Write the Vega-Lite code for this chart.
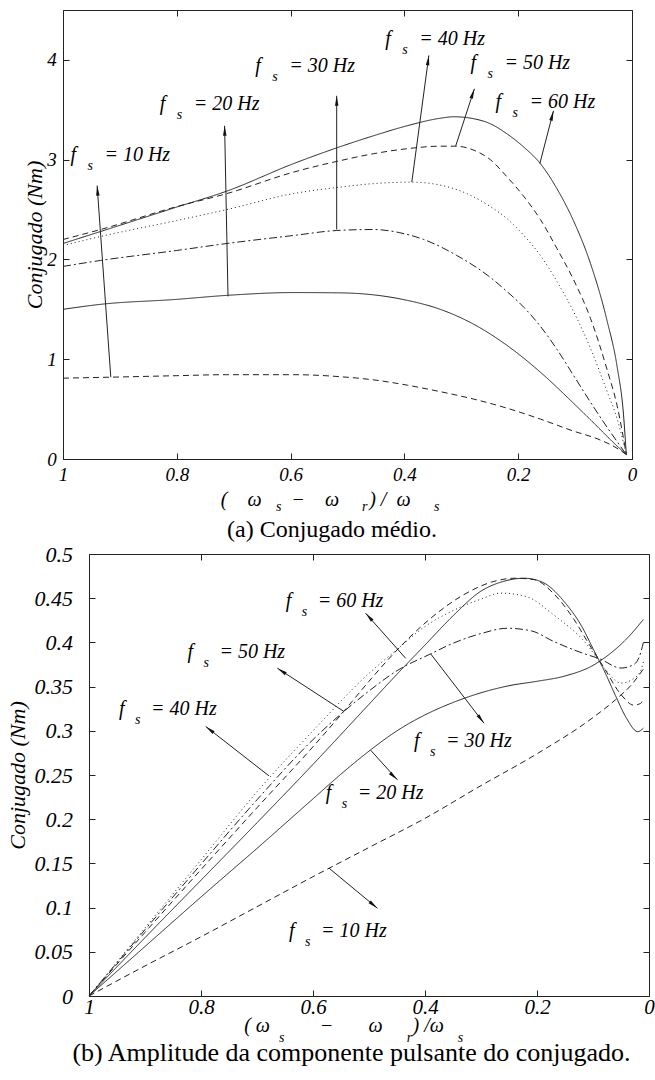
{
  "$schema": "https://vega.github.io/schema/vega-lite/v6.json",
  "background": "white",
  "padding": {"left": 6, "top": 9, "right": 0, "bottom": 0},
  "config": {
    "view": {"stroke": null},
    "font": "Liberation Serif",
    "axis": {
      "grid": false,
      "domainColor": "#222",
      "domainWidth": 1,
      "tickColor": "#222",
      "tickWidth": 1,
      "tickSize": -6,
      "labelColor": "#000",
      "labelFont": "Liberation Serif",
      "labelFontStyle": "italic",
      "labelFlush": false,
      "labelOverlap": false,
      "titleColor": "#000",
      "titleFont": "Liberation Serif",
      "titleFontStyle": "italic",
      "titleFontWeight": "normal"
    },
    "title": {"color": "#000", "subtitleColor": "#000"}
  },
  "datasets": {
    "topCurves": [
      {"f":"10 Hz","s":1,"T":0.81},{"f":"10 Hz","s":0.916,"T":0.82},{"f":"10 Hz","s":0.8,"T":0.835},{"f":"10 Hz","s":0.712,"T":0.845},{"f":"10 Hz","s":0.595,"T":0.845},{"f":"10 Hz","s":0.513,"T":0.825},{"f":"10 Hz","s":0.45,"T":0.79},{"f":"10 Hz","s":0.395,"T":0.74},{"f":"10 Hz","s":0.337,"T":0.675},{"f":"10 Hz","s":0.278,"T":0.6},{"f":"10 Hz","s":0.22,"T":0.51},{"f":"10 Hz","s":0.161,"T":0.4},{"f":"10 Hz","s":0.103,"T":0.28},{"f":"10 Hz","s":0.06,"T":0.2},{"f":"10 Hz","s":0.03,"T":0.12},{"f":"10 Hz","s":0.01,"T":0.045},
      {"f":"20 Hz","s":1,"T":1.5},{"f":"20 Hz","s":0.934,"T":1.55},{"f":"20 Hz","s":0.8,"T":1.6},{"f":"20 Hz","s":0.712,"T":1.64},{"f":"20 Hz","s":0.595,"T":1.668},{"f":"20 Hz","s":0.513,"T":1.665},{"f":"20 Hz","s":0.454,"T":1.645},{"f":"20 Hz","s":0.395,"T":1.59},{"f":"20 Hz","s":0.337,"T":1.5},{"f":"20 Hz","s":0.278,"T":1.35},{"f":"20 Hz","s":0.22,"T":1.14},{"f":"20 Hz","s":0.161,"T":0.87},{"f":"20 Hz","s":0.103,"T":0.56},{"f":"20 Hz","s":0.06,"T":0.32},{"f":"20 Hz","s":0.03,"T":0.15},{"f":"20 Hz","s":0.01,"T":0.045},
      {"f":"30 Hz","s":1,"T":1.93},{"f":"30 Hz","s":0.934,"T":1.99},{"f":"30 Hz","s":0.8,"T":2.09},{"f":"30 Hz","s":0.712,"T":2.16},{"f":"30 Hz","s":0.595,"T":2.24},{"f":"30 Hz","s":0.519,"T":2.29},{"f":"30 Hz","s":0.454,"T":2.3},{"f":"30 Hz","s":0.41,"T":2.27},{"f":"30 Hz","s":0.366,"T":2.2},{"f":"30 Hz","s":0.308,"T":2.04},{"f":"30 Hz","s":0.249,"T":1.82},{"f":"30 Hz","s":0.22,"T":1.68},{"f":"30 Hz","s":0.19,"T":1.52},{"f":"30 Hz","s":0.161,"T":1.33},{"f":"30 Hz","s":0.132,"T":1.1},{"f":"30 Hz","s":0.103,"T":0.84},{"f":"30 Hz","s":0.073,"T":0.57},{"f":"30 Hz","s":0.044,"T":0.32},{"f":"30 Hz","s":0.01,"T":0.045},
      {"f":"40 Hz","s":1,"T":2.14},{"f":"40 Hz","s":0.934,"T":2.23},{"f":"40 Hz","s":0.8,"T":2.39},{"f":"40 Hz","s":0.712,"T":2.5},{"f":"40 Hz","s":0.595,"T":2.66},{"f":"40 Hz","s":0.513,"T":2.725},{"f":"40 Hz","s":0.454,"T":2.76},{"f":"40 Hz","s":0.387,"T":2.775},{"f":"40 Hz","s":0.337,"T":2.745},{"f":"40 Hz","s":0.308,"T":2.7},{"f":"40 Hz","s":0.249,"T":2.53},{"f":"40 Hz","s":0.22,"T":2.41},{"f":"40 Hz","s":0.19,"T":2.24},{"f":"40 Hz","s":0.161,"T":2.04},{"f":"40 Hz","s":0.132,"T":1.78},{"f":"40 Hz","s":0.103,"T":1.48},{"f":"40 Hz","s":0.073,"T":1.11},{"f":"40 Hz","s":0.044,"T":0.68},{"f":"40 Hz","s":0.026,"T":0.4},{"f":"40 Hz","s":0.01,"T":0.045},
      {"f":"50 Hz","s":1,"T":2.2},{"f":"50 Hz","s":0.934,"T":2.3},{"f":"50 Hz","s":0.8,"T":2.53},{"f":"50 Hz","s":0.712,"T":2.66},{"f":"50 Hz","s":0.595,"T":2.875},{"f":"50 Hz","s":0.513,"T":2.99},{"f":"50 Hz","s":0.454,"T":3.06},{"f":"50 Hz","s":0.395,"T":3.11},{"f":"50 Hz","s":0.337,"T":3.135},{"f":"50 Hz","s":0.31,"T":3.135},{"f":"50 Hz","s":0.278,"T":3.095},{"f":"50 Hz","s":0.249,"T":3.0},{"f":"50 Hz","s":0.22,"T":2.83},{"f":"50 Hz","s":0.19,"T":2.63},{"f":"50 Hz","s":0.161,"T":2.4},{"f":"50 Hz","s":0.132,"T":2.11},{"f":"50 Hz","s":0.103,"T":1.8},{"f":"50 Hz","s":0.073,"T":1.41},{"f":"50 Hz","s":0.044,"T":0.9},{"f":"50 Hz","s":0.026,"T":0.53},{"f":"50 Hz","s":0.01,"T":0.045},
      {"f":"60 Hz","s":1,"T":2.16},{"f":"60 Hz","s":0.934,"T":2.28},{"f":"60 Hz","s":0.8,"T":2.525},{"f":"60 Hz","s":0.712,"T":2.685},{"f":"60 Hz","s":0.595,"T":2.96},{"f":"60 Hz","s":0.513,"T":3.13},{"f":"60 Hz","s":0.454,"T":3.24},{"f":"60 Hz","s":0.395,"T":3.34},{"f":"60 Hz","s":0.337,"T":3.415},{"f":"60 Hz","s":0.313,"T":3.43},{"f":"60 Hz","s":0.278,"T":3.41},{"f":"60 Hz","s":0.249,"T":3.36},{"f":"60 Hz","s":0.22,"T":3.26},{"f":"60 Hz","s":0.19,"T":3.125},{"f":"60 Hz","s":0.161,"T":2.96},{"f":"60 Hz","s":0.132,"T":2.71},{"f":"60 Hz","s":0.103,"T":2.39},{"f":"60 Hz","s":0.073,"T":1.96},{"f":"60 Hz","s":0.044,"T":1.39},{"f":"60 Hz","s":0.026,"T":0.92},{"f":"60 Hz","s":0.015,"T":0.45},{"f":"60 Hz","s":0.01,"T":0.045}
    ],
    "topNotes": [
      {"f":"10 Hz","x1":0.916,"y1":0.82,"x2":0.94,"y2":2.74,"angle":-4.2,"lx":0.987,"ly":2.99,"label":"= 10 Hz"},
      {"f":"20 Hz","x1":0.71,"y1":1.63,"x2":0.716,"y2":3.34,"angle":-1.1,"lx":0.83,"ly":3.5,"label":"= 20 Hz"},
      {"f":"30 Hz","x1":0.519,"y1":2.3,"x2":0.519,"y2":3.64,"angle":0,"lx":0.662,"ly":3.88,"label":"= 30 Hz"},
      {"f":"40 Hz","x1":0.387,"y1":2.775,"x2":0.357,"y2":4.045,"angle":7.5,"lx":0.4335,"ly":4.145,"label":"= 40 Hz"},
      {"f":"50 Hz","x1":0.31,"y1":3.135,"x2":0.277,"y2":3.71,"angle":18.6,"lx":0.284,"ly":3.91,"label":"= 50 Hz"},
      {"f":"60 Hz","x1":0.162,"y1":2.96,"x2":0.138,"y2":3.49,"angle":14.7,"lx":0.24,"ly":3.52,"label":"= 60 Hz"}
    ],
    "botCurves": [
      {"f":"10 Hz","s":1,"T":0},{"f":"10 Hz","s":0.9,"T":0.034},{"f":"10 Hz","s":0.8,"T":0.067},{"f":"10 Hz","s":0.7,"T":0.101},{"f":"10 Hz","s":0.6,"T":0.135},{"f":"10 Hz","s":0.5,"T":0.168},{"f":"10 Hz","s":0.4,"T":0.201},{"f":"10 Hz","s":0.3,"T":0.238},{"f":"10 Hz","s":0.2,"T":0.274},{"f":"10 Hz","s":0.1,"T":0.315},{"f":"10 Hz","s":0.06,"T":0.335},{"f":"10 Hz","s":0.03,"T":0.353},{"f":"10 Hz","s":0.01,"T":0.37},
      {"f":"20 Hz","s":1,"T":0},{"f":"20 Hz","s":0.9,"T":0.056},{"f":"20 Hz","s":0.8,"T":0.112},{"f":"20 Hz","s":0.7,"T":0.167},{"f":"20 Hz","s":0.6,"T":0.223},{"f":"20 Hz","s":0.55,"T":0.251},{"f":"20 Hz","s":0.5,"T":0.277},{"f":"20 Hz","s":0.45,"T":0.3},{"f":"20 Hz","s":0.4,"T":0.318},{"f":"20 Hz","s":0.35,"T":0.332},{"f":"20 Hz","s":0.3,"T":0.343},{"f":"20 Hz","s":0.25,"T":0.351},{"f":"20 Hz","s":0.2,"T":0.356},{"f":"20 Hz","s":0.15,"T":0.362},{"f":"20 Hz","s":0.1,"T":0.374},{"f":"20 Hz","s":0.07,"T":0.387},{"f":"20 Hz","s":0.04,"T":0.404},{"f":"20 Hz","s":0.01,"T":0.426},
      {"f":"30 Hz","s":1,"T":0},{"f":"30 Hz","s":0.9,"T":0.075},{"f":"30 Hz","s":0.8,"T":0.149},{"f":"30 Hz","s":0.7,"T":0.222},{"f":"30 Hz","s":0.6,"T":0.29},{"f":"30 Hz","s":0.5,"T":0.345},{"f":"30 Hz","s":0.45,"T":0.368},{"f":"30 Hz","s":0.39,"T":0.387},{"f":"30 Hz","s":0.35,"T":0.399},{"f":"30 Hz","s":0.3,"T":0.41},{"f":"30 Hz","s":0.253,"T":0.416},{"f":"30 Hz","s":0.21,"T":0.413},{"f":"30 Hz","s":0.17,"T":0.401},{"f":"30 Hz","s":0.11,"T":0.386},{"f":"30 Hz","s":0.09,"T":0.382},{"f":"30 Hz","s":0.05,"T":0.371},{"f":"30 Hz","s":0.027,"T":0.375},{"f":"30 Hz","s":0.015,"T":0.388},{"f":"30 Hz","s":0.01,"T":0.4},
      {"f":"40 Hz","s":1,"T":0},{"f":"40 Hz","s":0.9,"T":0.077},{"f":"40 Hz","s":0.8,"T":0.154},{"f":"40 Hz","s":0.7,"T":0.231},{"f":"40 Hz","s":0.6,"T":0.3},{"f":"40 Hz","s":0.5,"T":0.365},{"f":"40 Hz","s":0.45,"T":0.392},{"f":"40 Hz","s":0.4,"T":0.418},{"f":"40 Hz","s":0.35,"T":0.436},{"f":"40 Hz","s":0.3,"T":0.449},{"f":"40 Hz","s":0.265,"T":0.4557},{"f":"40 Hz","s":0.22,"T":0.452},{"f":"40 Hz","s":0.17,"T":0.431},{"f":"40 Hz","s":0.11,"T":0.397},{"f":"40 Hz","s":0.08,"T":0.371},{"f":"40 Hz","s":0.05,"T":0.354},{"f":"40 Hz","s":0.03,"T":0.358},{"f":"40 Hz","s":0.015,"T":0.368},{"f":"40 Hz","s":0.01,"T":0.378},
      {"f":"50 Hz","s":1,"T":0},{"f":"50 Hz","s":0.9,"T":0.072},{"f":"50 Hz","s":0.8,"T":0.143},{"f":"50 Hz","s":0.7,"T":0.213},{"f":"50 Hz","s":0.6,"T":0.282},{"f":"50 Hz","s":0.545,"T":0.322},{"f":"50 Hz","s":0.5,"T":0.356},{"f":"50 Hz","s":0.455,"T":0.388},{"f":"50 Hz","s":0.396,"T":0.424},{"f":"50 Hz","s":0.336,"T":0.452},{"f":"50 Hz","s":0.277,"T":0.469},{"f":"50 Hz","s":0.241,"T":0.4726},{"f":"50 Hz","s":0.205,"T":0.471},{"f":"50 Hz","s":0.17,"T":0.455},{"f":"50 Hz","s":0.134,"T":0.426},{"f":"50 Hz","s":0.11,"T":0.401},{"f":"50 Hz","s":0.08,"T":0.371},{"f":"50 Hz","s":0.05,"T":0.341},{"f":"50 Hz","s":0.027,"T":0.329},{"f":"50 Hz","s":0.015,"T":0.331},{"f":"50 Hz","s":0.01,"T":0.337},
      {"f":"60 Hz","s":1,"T":0},{"f":"60 Hz","s":0.9,"T":0.066},{"f":"60 Hz","s":0.8,"T":0.131},{"f":"60 Hz","s":0.7,"T":0.196},{"f":"60 Hz","s":0.6,"T":0.262},{"f":"60 Hz","s":0.5,"T":0.33},{"f":"60 Hz","s":0.45,"T":0.364},{"f":"60 Hz","s":0.4,"T":0.397},{"f":"60 Hz","s":0.35,"T":0.43},{"f":"60 Hz","s":0.3,"T":0.458},{"f":"60 Hz","s":0.26,"T":0.469},{"f":"60 Hz","s":0.223,"T":0.4726},{"f":"60 Hz","s":0.19,"T":0.468},{"f":"60 Hz","s":0.15,"T":0.445},{"f":"60 Hz","s":0.12,"T":0.418},{"f":"60 Hz","s":0.1,"T":0.393},{"f":"60 Hz","s":0.08,"T":0.368},{"f":"60 Hz","s":0.06,"T":0.34},{"f":"60 Hz","s":0.04,"T":0.314},{"f":"60 Hz","s":0.02,"T":0.299},{"f":"60 Hz","s":0.01,"T":0.303}
    ],
    "botNotes": [
      {"f":"10 Hz","x1":0.5714,"y1":0.1446,"x2":0.485,"y2":0.0993,"angle":129.6,"lx":0.6429,"ly":0.0673,"label":"= 10 Hz"},
      {"f":"20 Hz","x1":0.497,"y1":0.278,"x2":0.4493,"y2":0.2446,"angle":133.1,"lx":0.5773,"ly":0.2234,"label":"= 20 Hz"},
      {"f":"30 Hz","x1":0.3898,"y1":0.387,"x2":0.2946,"y2":0.3086,"angle":142.5,"lx":0.4196,"ly":0.2822,"label":"= 30 Hz"},
      {"f":"40 Hz","x1":0.6786,"y1":0.249,"x2":0.7916,"y2":0.3049,"angle":-52.1,"lx":0.9464,"ly":0.318,"label":"= 40 Hz"},
      {"f":"50 Hz","x1":0.5446,"y1":0.3218,"x2":0.6636,"y2":0.3708,"angle":-57,"lx":0.8243,"ly":0.382,"label":"= 50 Hz"},
      {"f":"60 Hz","x1":0.4345,"y1":0.382,"x2":0.506,"y2":0.433,"angle":-41.6,"lx":0.6488,"ly":0.4406,"label":"= 60 Hz"}
    ]
  },
  "bounds": "flush",
  "spacing": 95,
  "vconcat": [
    {
      "width": 569,
      "height": 449,
      "title": {
        "text": "\u200b\u00a0\u00a0\u00a0\u00a0\u00a0\u00a0\u00a0\u00a0\u00a0\u00a0\u00a0\u00a0\u00a0\u00a0s\u00a0\u00a0\u00a0\u00a0\u00a0\u00a0\u00a0\u00a0\u00a0\u00a0\u00a0\u00a0\u00a0\u00a0\u00a0\u00a0\u00a0\u00a0\u00a0\u00a0\u00a0\u00a0\u00a0r\u00a0\u00a0\u00a0\u00a0\u00a0\u00a0\u00a0\u00a0\u00a0\u00a0\u00a0\u00a0\u00a0\u00a0\u00a0\u00a0\u00a0\u00a0\u00a0s",
        "subtitle": "(a) Conjugado médio.",
        "orient": "bottom",
        "frame": "group",
        "anchor": "start",
        "align": "left",
        "dx": 164,
        "offset": -9,
        "font": "Liberation Serif",
        "fontSize": 14,
        "fontStyle": "italic",
        "fontWeight": "normal",
        "subtitleFont": "Liberation Serif",
        "subtitleFontSize": 24,
        "subtitleFontStyle": "normal",
        "subtitlePadding": 4
      },
      "resolve": {"axis": {"x": "independent", "y": "independent"}},
      "layer": [
        {
          "data": {"name": "topCurves"},
          "mark": {"type": "line", "interpolate": "monotone", "strokeWidth": 1, "color": "#222"},
          "encoding": {
            "x": {"field": "s", "type": "quantitative", "scale": {"domain": [1, 0], "nice": false, "zero": false},
                  "axis": {"orient": "bottom", "values": [1, 0.8, 0.6, 0.4, 0.2, 0], "format": "~g", "labelFontSize": 19, "labelPadding": 12,
                           "title": "(\u00a0\u00a0\u00a0\u00a0ω\u00a0\u00a0\u00a0\u00a0\u00a0\u00a0−\u00a0\u00a0\u00a0\u00a0ω\u00a0\u00a0\u00a0\u00a0\u00a0\u00a0)\u00a0/\u00a0\u00a0ω",
                           "titleFontSize": 20, "titleX": 157.3, "titleY": 46, "titleAlign": "left", "titleBaseline": "alphabetic"}},
            "y": {"field": "T", "type": "quantitative", "scale": {"domain": [0, 4.5], "nice": false, "zero": false},
                  "axis": {"orient": "left", "values": [0, 1, 2, 3, 4], "format": "~g", "labelFontSize": 19, "labelPadding": 12.7,
                           "title": "Conjugado (Nm)", "titleFontSize": 22, "titleX": -22, "titleY": 224.5, "titleAngle": 270, "titleAlign": "center", "titleBaseline": "alphabetic"}},
            "strokeDash": {"field": "f", "type": "nominal",
                           "scale": {"domain": ["10 Hz", "20 Hz", "30 Hz", "40 Hz", "50 Hz", "60 Hz"], "range": [[6, 4], [1, 0], [8, 3, 2, 3], [1, 3], [6, 4], [1, 0]]},
                           "legend": null}
          }
        },
        {
          "data": {"name": "topNotes"},
          "mark": {"type": "rule", "strokeWidth": 1, "color": "#222"},
          "encoding": {
            "x": {"field": "x1", "type": "quantitative", "scale": {"domain": [1, 0], "nice": false, "zero": false},
                  "axis": {"orient": "top", "values": [1, 0.8, 0.6, 0.4, 0.2, 0], "labels": false, "title": null}},
            "y": {"field": "y1", "type": "quantitative", "scale": {"domain": [0, 4.5], "nice": false, "zero": false},
                  "axis": {"orient": "right", "values": [0, 1, 2, 3, 4], "labels": false, "title": null}},
            "x2": {"field": "x2"},
            "y2": {"field": "y2"}
          }
        },
        {
          "data": {"name": "topNotes"},
          "mark": {"type": "point", "shape": "M0,0L0.35,2L-0.35,2Z", "filled": true, "size": 100, "color": "#111", "opacity": 1},
          "encoding": {
            "x": {"field": "x2", "type": "quantitative", "scale": {"domain": [1, 0], "nice": false, "zero": false}, "axis": null},
            "y": {"field": "y2", "type": "quantitative", "scale": {"domain": [0, 4.5], "nice": false, "zero": false}, "axis": null},
            "angle": {"field": "angle", "type": "quantitative", "scale": null}
          }
        },
        {
          "data": {"name": "topNotes"},
          "mark": {"type": "text", "text": "f", "align": "left", "baseline": "alphabetic", "font": "Liberation Serif", "fontStyle": "italic", "fontSize": 20, "color": "#000"},
          "encoding": {
            "x": {"field": "lx", "type": "quantitative", "scale": {"domain": [1, 0], "nice": false, "zero": false}, "axis": null},
            "y": {"field": "ly", "type": "quantitative", "scale": {"domain": [0, 4.5], "nice": false, "zero": false}, "axis": null}
          }
        },
        {
          "data": {"name": "topNotes"},
          "mark": {"type": "text", "text": "s", "align": "left", "baseline": "alphabetic", "dx": 17, "dy": 9, "font": "Liberation Serif", "fontStyle": "italic", "fontSize": 14, "color": "#000"},
          "encoding": {
            "x": {"field": "lx", "type": "quantitative", "scale": {"domain": [1, 0], "nice": false, "zero": false}, "axis": null},
            "y": {"field": "ly", "type": "quantitative", "scale": {"domain": [0, 4.5], "nice": false, "zero": false}, "axis": null}
          }
        },
        {
          "data": {"name": "topNotes"},
          "mark": {"type": "text", "align": "left", "baseline": "alphabetic", "dx": 34, "font": "Liberation Serif", "fontStyle": "italic", "fontSize": 20, "color": "#000"},
          "encoding": {
            "x": {"field": "lx", "type": "quantitative", "scale": {"domain": [1, 0], "nice": false, "zero": false}, "axis": null},
            "y": {"field": "ly", "type": "quantitative", "scale": {"domain": [0, 4.5], "nice": false, "zero": false}, "axis": null},
            "text": {"field": "label", "type": "nominal"}
          }
        }
      ]
    },
    {
      "bounds": "flush",
      "spacing": 0,
      "hconcat": [
        {
          "width": 25.6,
          "height": 10,
          "data": {"values": []},
          "mark": "point"
        },
        {
          "width": 560,
          "height": 442,
          "title": {
            "text": "\u200b\u00a0\u00a0\u00a0\u00a0\u00a0\u00a0\u00a0\u00a0\u00a0\u00a0\u00a0\u00a0\u00a0\u00a0\u00a0\u00a0\u00a0\u00a0\u00a0\u00a0\u00a0\u00a0\u00a0\u00a0\u00a0\u00a0\u00a0\u00a0\u00a0\u00a0\u00a0\u00a0\u00a0\u00a0\u00a0\u00a0\u00a0\u00a0\u00a0\u00a0\u00a0\u00a0\u00a0\u00a0\u00a0\u00a0\u00a0\u00a0\u00a0\u00a0\u00a0\u00a0\u00a0\u00a0\u00a0\u00a0\u00a0\u00a0\u00a0s\u00a0\u00a0\u00a0\u00a0\u00a0\u00a0\u00a0\u00a0\u00a0\u00a0\u00a0\u00a0\u00a0\u00a0\u00a0\u00a0\u00a0\u00a0\u00a0\u00a0\u00a0\u00a0\u00a0\u00a0\u00a0\u00a0\u00a0\u00a0\u00a0\u00a0\u00a0\u00a0\u00a0\u00a0\u00a0r\u00a0\u00a0\u00a0\u00a0\u00a0\u00a0\u00a0\u00a0\u00a0\u00a0\u00a0\u00a0\u00a0s",
            "subtitle": "(b) Amplitude da componente pulsante do conjugado.",
            "orient": "bottom",
            "frame": "group",
            "anchor": "start",
            "align": "left",
            "dx": -16.6,
            "offset": -5,
            "font": "Liberation Serif",
            "fontSize": 14,
            "fontStyle": "italic",
            "fontWeight": "normal",
            "subtitleFont": "Liberation Serif",
            "subtitleFontSize": 26,
            "subtitleFontStyle": "normal",
            "subtitlePadding": -4.5
          },
          "resolve": {"axis": {"x": "independent", "y": "independent"}},
          "layer": [
            {
              "data": {"name": "botCurves"},
              "mark": {"type": "line", "interpolate": "monotone", "strokeWidth": 1, "color": "#222"},
              "encoding": {
                "x": {"field": "s", "type": "quantitative", "scale": {"domain": [1, 0], "nice": false, "zero": false},
                      "axis": {"orient": "bottom", "values": [1, 0.8, 0.6, 0.4, 0.2, 0], "format": "~g", "labelFontSize": 21, "labelPadding": 6,
                               "title": "(\u00a0ω\u00a0\u00a0\u00a0\u00a0\u00a0\u00a0\u00a0\u00a0\u00a0\u00a0−\u00a0\u00a0\u00a0\u00a0\u00a0\u00a0\u00a0ω\u00a0\u00a0\u00a0\u00a0\u00a0\u00a0)\u00a0/ω",
                               "titleFontSize": 20, "titleX": 154.7, "titleY": 35.5, "titleAlign": "left", "titleBaseline": "alphabetic"}},
                "y": {"field": "T", "type": "quantitative", "scale": {"domain": [0, 0.5], "nice": false, "zero": false},
                      "axis": {"orient": "left", "values": [0, 0.05, 0.1, 0.15, 0.2, 0.25, 0.3, 0.35, 0.4, 0.45, 0.5], "format": "~g", "labelFontSize": 22, "labelPadding": 22.6,
                               "title": "Conjugado (Nm)", "titleFontSize": 22, "titleX": -64.3, "titleY": 221, "titleAngle": 270, "titleAlign": "center", "titleBaseline": "alphabetic"}},
                "strokeDash": {"field": "f", "type": "nominal",
                               "scale": {"domain": ["10 Hz", "20 Hz", "30 Hz", "40 Hz", "50 Hz", "60 Hz"], "range": [[5, 4], [1, 0], [6, 3, 1.5, 3], [1, 2.5], [5, 3], [1, 0]]},
                               "legend": null}
              }
            },
            {
              "data": {"name": "botNotes"},
              "mark": {"type": "rule", "strokeWidth": 1, "color": "#222"},
              "encoding": {
                "x": {"field": "x1", "type": "quantitative", "scale": {"domain": [1, 0], "nice": false, "zero": false},
                      "axis": {"orient": "top", "values": [1, 0.8, 0.6, 0.4, 0.2, 0], "labels": false, "title": null}},
                "y": {"field": "y1", "type": "quantitative", "scale": {"domain": [0, 0.5], "nice": false, "zero": false},
                      "axis": {"orient": "right", "values": [0, 0.05, 0.1, 0.15, 0.2, 0.25, 0.3, 0.35, 0.4, 0.45, 0.5], "labels": false, "title": null}},
                "x2": {"field": "x2"},
                "y2": {"field": "y2"}
              }
            },
            {
              "data": {"name": "botNotes"},
              "mark": {"type": "point", "shape": "M0,0L0.35,2L-0.35,2Z", "filled": true, "size": 100, "color": "#111", "opacity": 1},
              "encoding": {
                "x": {"field": "x2", "type": "quantitative", "scale": {"domain": [1, 0], "nice": false, "zero": false}, "axis": null},
                "y": {"field": "y2", "type": "quantitative", "scale": {"domain": [0, 0.5], "nice": false, "zero": false}, "axis": null},
                "angle": {"field": "angle", "type": "quantitative", "scale": null}
              }
            },
            {
              "data": {"name": "botNotes"},
              "mark": {"type": "text", "text": "f", "align": "left", "baseline": "alphabetic", "font": "Liberation Serif", "fontStyle": "italic", "fontSize": 20, "color": "#000"},
              "encoding": {
                "x": {"field": "lx", "type": "quantitative", "scale": {"domain": [1, 0], "nice": false, "zero": false}, "axis": null},
                "y": {"field": "ly", "type": "quantitative", "scale": {"domain": [0, 0.5], "nice": false, "zero": false}, "axis": null}
              }
            },
            {
              "data": {"name": "botNotes"},
              "mark": {"type": "text", "text": "s", "align": "left", "baseline": "alphabetic", "dx": 16, "dy": 9, "font": "Liberation Serif", "fontStyle": "italic", "fontSize": 14, "color": "#000"},
              "encoding": {
                "x": {"field": "lx", "type": "quantitative", "scale": {"domain": [1, 0], "nice": false, "zero": false}, "axis": null},
                "y": {"field": "ly", "type": "quantitative", "scale": {"domain": [0, 0.5], "nice": false, "zero": false}, "axis": null}
              }
            },
            {
              "data": {"name": "botNotes"},
              "mark": {"type": "text", "align": "left", "baseline": "alphabetic", "dx": 32, "font": "Liberation Serif", "fontStyle": "italic", "fontSize": 20, "color": "#000"},
              "encoding": {
                "x": {"field": "lx", "type": "quantitative", "scale": {"domain": [1, 0], "nice": false, "zero": false}, "axis": null},
                "y": {"field": "ly", "type": "quantitative", "scale": {"domain": [0, 0.5], "nice": false, "zero": false}, "axis": null},
                "text": {"field": "label", "type": "nominal"}
              }
            }
          ]
        }
      ]
    }
  ]
}
